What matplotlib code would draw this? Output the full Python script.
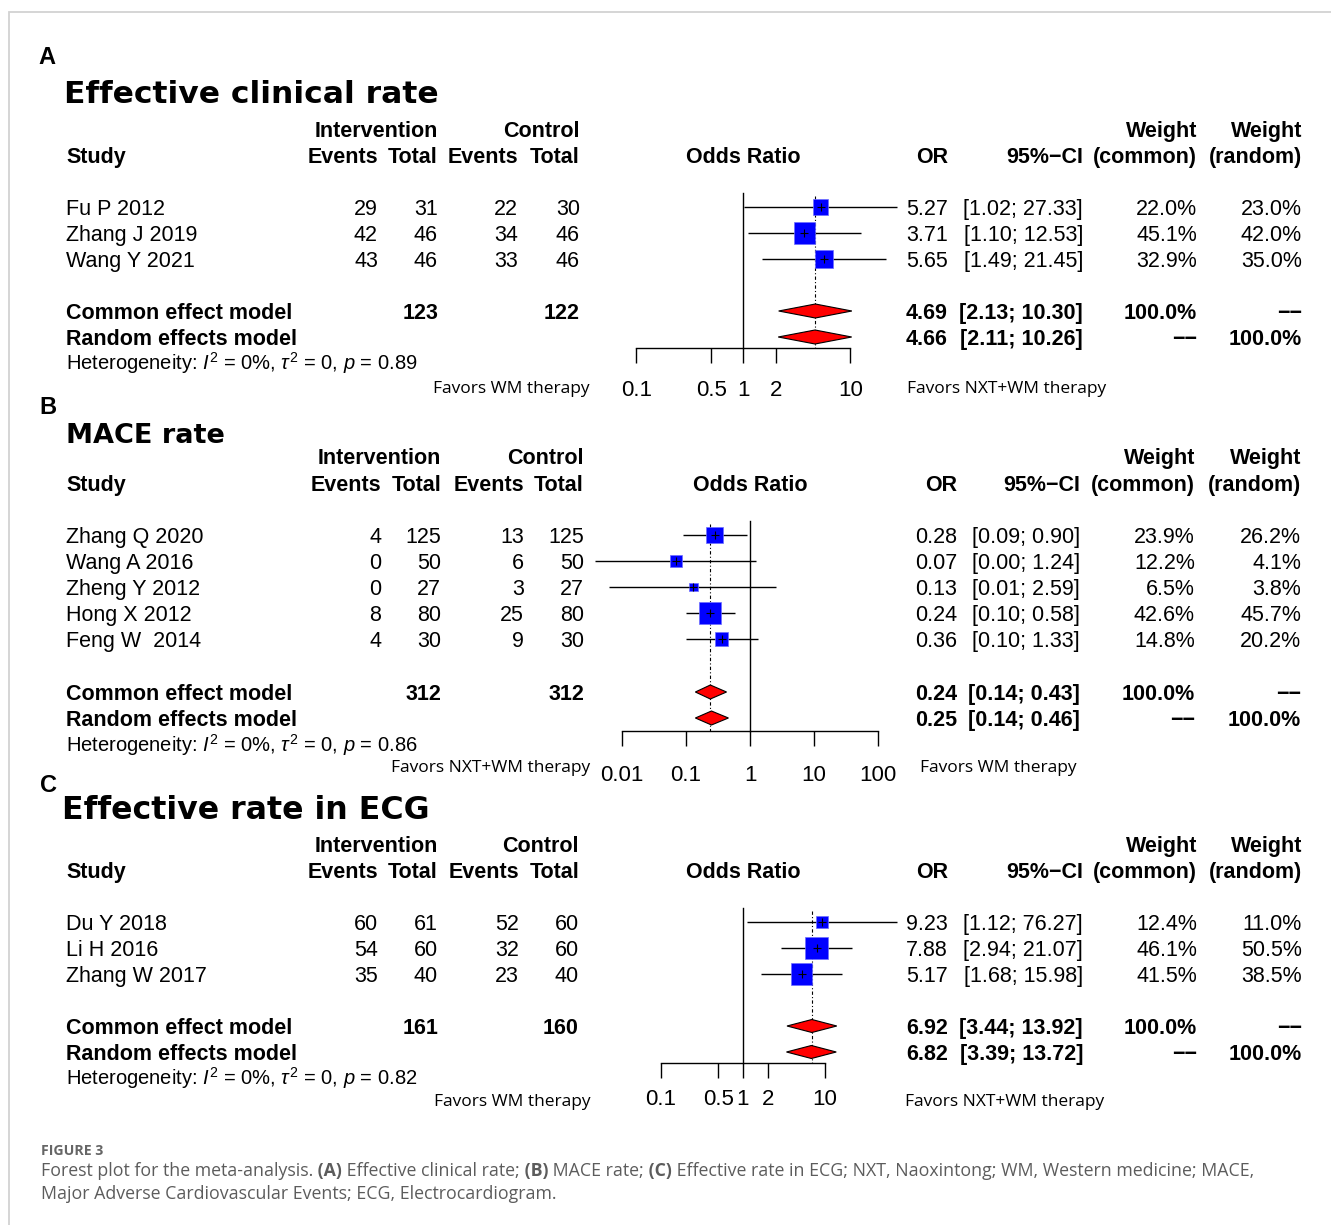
import matplotlib
matplotlib.use("Agg")
import matplotlib.pyplot as plt
import numpy as np
from matplotlib.ticker import FixedLocator, FixedFormatter, NullLocator

W, H, DPI = 1331, 1225, 100
PT = 72 / DPI  # points per pixel

plt.rcParams.update({
    "font.family": "Liberation Sans",
    "mathtext.fontset": "custom",
    "mathtext.rm": "Liberation Sans",
    "mathtext.it": "Liberation Sans:italic",
    "mathtext.bf": "Liberation Sans:bold",
})

# ---- (A) effective clinical rate ----
A_STUDY = ["Fu P 2012", "Zhang J 2019", "Wang Y 2021"]
A_EV_I = [29, 42, 43]
A_N_I = [31, 46, 46]
A_EV_C = [22, 34, 33]
A_N_C = [30, 46, 46]
A_OR = [5.27, 3.71, 5.65]
A_LO = [1.02, 1.10, 1.49]
A_HI = [27.33, 12.53, 21.45]
A_W_COMMON = [22.0, 45.1, 32.9]
A_W_RANDOM = [23.0, 42.0, 35.0]
A_COMMON = [4.69, 2.13, 10.30]
A_RANDOM = [4.66, 2.11, 10.26]
A_TOTALS = [123, 122]
A_HET = [0, 0, 0.89]  # I2 (%), tau2, p
A_TICKS = [0.1, 0.5, 1, 2, 10]
A_TICKLABELS = ["0.1", "0.5", "1", "2", "10"]

# ---- (B) MACE rate ----
B_STUDY = ["Zhang Q 2020", "Wang A 2016", "Zheng Y 2012", "Hong X 2012", "Feng W  2014"]
B_EV_I = [4, 0, 0, 8, 4]
B_N_I = [125, 50, 27, 80, 30]
B_EV_C = [13, 6, 3, 25, 9]
B_N_C = [125, 50, 27, 80, 30]
B_OR = [0.28, 0.07, 0.13, 0.24, 0.36]
B_LO = [0.09, 0.0038, 0.0063, 0.10, 0.10]
B_HI = [0.90, 1.24, 2.59, 0.58, 1.33]
B_W_COMMON = [23.9, 12.2, 6.5, 42.6, 14.8]
B_W_RANDOM = [26.2, 4.1, 3.8, 45.7, 20.2]
B_COMMON = [0.24, 0.14, 0.43]
B_RANDOM = [0.25, 0.14, 0.46]
B_TOTALS = [312, 312]
B_HET = [0, 0, 0.86]
B_TICKS = [0.01, 0.1, 1, 10, 100]
B_TICKLABELS = ["0.01", "0.1", "1", "10", "100"]

# ---- (C) effective rate in ECG ----
C_STUDY = ["Du Y 2018", "Li H 2016", "Zhang W 2017"]
C_EV_I = [60, 54, 35]
C_N_I = [61, 60, 40]
C_EV_C = [52, 32, 23]
C_N_C = [60, 60, 40]
C_OR = [9.23, 7.88, 5.17]
C_LO = [1.12, 2.94, 1.68]
C_HI = [76.27, 21.07, 15.98]
C_W_COMMON = [12.4, 46.1, 41.5]
C_W_RANDOM = [11.0, 50.5, 38.5]
C_COMMON = [6.92, 3.44, 13.92]
C_RANDOM = [6.82, 3.39, 13.72]
C_TOTALS = [161, 160]
C_HET = [0, 0, 0.82]
C_TICKS = [0.1, 0.5, 1, 2, 10]
C_TICKLABELS = ["0.1", "0.5", "1", "2", "10"]

FAV_TREAT = "Favors NXT+WM therapy"
FAV_CTRL = "Favors WM therapy"

CAPTION_HEAD = "FIGURE 3"
CAPTION_1 = [("Forest plot for the meta-analysis.", "normal"), (" (A)", "bold"),
             (" Effective clinical rate;", "normal"), (" (B)", "bold"),
             (" MACE rate;", "normal"), (" (C)", "bold"),
             (" Effective rate in ECG; NXT, Naoxintong; WM, Western medicine; MACE,", "normal")]
CAPTION_2 = "Major Adverse Cardiovascular Events; ECG, Electrocardiogram."

FS = 15.5      # table text (pt)
FS_TICK = 16
SANS_FAV = "Open Sans"
NA = "\u2212\u2212"


def put(ax, x, y, s, ha="left", weight="normal", size=FS, **kw):
    # y = vertical middle of the capital letters, in pixels
    return ax.text(x, y + 0.36 * size / PT, s, ha=ha, va="baseline",
                   fontsize=size, fontweight=weight, **kw)


def panel(fig, bg, name, title, data, lay):
    (study, ev_i, n_i, ev_c, n_c, orr, lo, hi, wc, wr,
     common, random, totals, het, ticks, ticklabels, fav_left, fav_right) = data
    c_study, c_evi, c_ni, c_evc, c_nc, c_or, c_ci, c_wc, c_wr = lay["cols"]

    put(bg, lay["label_x"], lay["label_y"], name, weight="bold", size=17)
    bg.text(lay["title_x"], lay["title_y"] + 0.36 * lay["title_size"] / PT, title,
            family="DejaVu Sans", fontweight="bold", fontsize=lay["title_size"],
            va="baseline")

    h1, h2 = lay["h1"], lay["h2"]
    put(bg, c_ni, h1, "Intervention", ha="right", weight="bold")
    put(bg, c_nc, h1, "Control", ha="right", weight="bold")
    put(bg, c_wc, h1, "Weight", ha="right", weight="bold")
    put(bg, c_wr, h1, "Weight", ha="right", weight="bold")
    put(bg, c_study, h2, "Study", weight="bold")
    for x, s in [(c_evi, "Events"), (c_ni, "Total"), (c_evc, "Events"), (c_nc, "Total"),
                 (c_or, "OR"), (c_ci, "95%\u2212CI"), (c_wc, "(common)"), (c_wr, "(random)")]:
        put(bg, x, h2, s, ha="right", weight="bold")
    put(bg, lay["x1"], h2, "Odds Ratio", ha="center", weight="bold")

    ys = [lay["row0"] + i * lay["step"] for i in range(len(study))]
    for i, y in enumerate(ys):
        put(bg, c_study, y, study[i])
        put(bg, c_evi, y, str(ev_i[i]), ha="right")
        put(bg, c_ni, y, str(n_i[i]), ha="right")
        put(bg, c_evc, y, str(ev_c[i]), ha="right")
        put(bg, c_nc, y, str(n_c[i]), ha="right")
        put(bg, c_or, y, f"{orr[i]:.2f}", ha="right")
        put(bg, c_ci, y, f"[{lo[i]:.2f}; {hi[i]:.2f}]", ha="right")
        put(bg, c_wc, y, f"{wc[i]:.1f}%", ha="right")
        put(bg, c_wr, y, f"{wr[i]:.1f}%", ha="right")

    yc, yr = lay["common"], lay["random"]
    put(bg, c_study, yc, "Common effect model", weight="bold")
    put(bg, c_study, yr, "Random effects model", weight="bold")
    put(bg, c_ni, yc, str(totals[0]), ha="right", weight="bold")
    put(bg, c_nc, yc, str(totals[1]), ha="right", weight="bold")
    for y, est in [(yc, common), (yr, random)]:
        put(bg, c_or, y, f"{est[0]:.2f}", ha="right", weight="bold")
        put(bg, c_ci, y, f"[{est[1]:.2f}; {est[2]:.2f}]", ha="right", weight="bold")
    put(bg, c_wc, yc, f"{sum(wc):.1f}%", ha="right", weight="bold")
    put(bg, c_wr, yc, NA, ha="right", weight="bold")
    put(bg, c_wc, yr, NA, ha="right", weight="bold")
    put(bg, c_wr, yr, f"{sum(wr):.1f}%", ha="right", weight="bold")
    put(bg, c_study, lay["het"],
        f"Heterogeneity: $I^2$ = {het[0]}%, $\\tau^2$ = {het[1]}, $p$ = {het[2]:.2f}",
        size=14.5)

    # forest: log odds-ratio axis laid over the table
    fx0, fx1 = 560, 945
    ax = fig.add_axes([fx0 / W, 0, (fx1 - fx0) / W, 1])
    ax.set_xscale("log")
    ax.set_xlim(10 ** ((fx0 - lay["x1"]) / lay["dec"]), 10 ** ((fx1 - lay["x1"]) / lay["dec"]))
    ax.set_ylim(H, 0)
    ax.patch.set_visible(False)
    for s in ("top", "left", "right"):
        ax.spines[s].set_visible(False)
    ax.spines["bottom"].set_position(("data", lay["base"]))
    ax.spines["bottom"].set_bounds(ticks[0], ticks[-1])
    ax.spines["bottom"].set_linewidth(1.0)
    ax.xaxis.set_major_locator(FixedLocator(ticks))
    ax.xaxis.set_major_formatter(FixedFormatter(ticklabels))
    ax.xaxis.set_minor_locator(NullLocator())
    ax.tick_params(axis="x", direction="out", length=15 * PT, width=1.0,
                   pad=lay["pad"] * PT, labelsize=FS_TICK)
    ax.set_yticks([])

    ax.plot([1, 1], [lay["null_top"], lay["base"]], color="black", lw=1.0, zorder=1)
    ax.plot([common[0], common[0]], [lay["null_top"] + 3, lay["base"]], color="black",
            lw=0.8, ls=(0, (3, 2, 1, 2)), zorder=1)
    ax.hlines(ys, lo, hi, color="black", lw=1.0, zorder=2, clip_on=False)
    sides = [lay["k"] * np.sqrt(w) * PT for w in wc]
    ax.scatter(orr, ys, marker="s", s=[s ** 2 for s in sides], color="#0000ff",
               edgecolor="#6f6fff", linewidth=0.5, zorder=3, clip_on=False)
    ax.scatter(orr, ys, marker="+", s=(8 * PT) ** 2, color="black", linewidth=0.8, zorder=4)
    dh = lay["dia_h"]
    for y, est in [(yc, common), (yr, random)]:
        ax.fill([est[1], est[0], est[2], est[0]], [y, y - dh, y, y + dh],
                facecolor="#ff0000", edgecolor="black", lw=0.8, zorder=3)

    bg.text(lay["fav_l"], lay["fav_y"], fav_left, ha="right", va="center",
            family=SANS_FAV, fontsize=12.5, color="black")
    bg.text(lay["fav_r"], lay["fav_y"], fav_right, ha="left", va="center",
            family=SANS_FAV, fontsize=12.5, color="black")


LAY_A = dict(label_x=38, label_y=55, title_x=64, title_y=92, title_size=22.6,
             h1=129, h2=155, row0=207, step=26, common=311, random=337, het=363,
             base=348, null_top=193, x1=743.5, dec=107, pad=17,
             cols=(66, 378, 438, 518, 580, 948, 1083, 1197, 1302),
             fav_y=389, fav_l=590, fav_r=907, dia_h=7, k=3.22)
LAY_B = dict(label_x=39, label_y=405, title_x=66, title_y=433, title_size=19.5,
             h1=456, h2=483, row0=535, step=26, common=692, random=718, het=745,
             base=731, null_top=521, x1=750, dec=64, pad=19,
             cols=(66, 381, 441, 524, 584, 957, 1080, 1195, 1301),
             fav_y=768, fav_l=590, fav_r=920, dia_h=7, k=3.4)
LAY_C = dict(label_x=40, label_y=783, title_x=62, title_y=808, title_size=22.8,
             h1=844, h2=870, row0=922, step=26, common=1026, random=1052, het=1078,
             base=1063, null_top=908, x1=743, dec=82, pad=11,
             cols=(66, 378, 438, 519, 579, 948, 1083, 1197, 1302),
             fav_y=1102, fav_l=591, fav_r=905, dia_h=6.5, k=3.3)

fig = plt.figure(figsize=(W / DPI, H / DPI), dpi=DPI)
bg = fig.add_axes([0, 0, 1, 1])
bg.set_xlim(0, W)
bg.set_ylim(H, 0)
bg.axis("off")

# page frame
bg.plot([9, 9, W], [H, 12, 12], color="#d2d2d2", lw=1.3, solid_joinstyle="miter")

panel(fig, bg, "A", "Effective clinical rate",
      (A_STUDY, A_EV_I, A_N_I, A_EV_C, A_N_C, A_OR, A_LO, A_HI, A_W_COMMON, A_W_RANDOM,
       A_COMMON, A_RANDOM, A_TOTALS, A_HET, A_TICKS, A_TICKLABELS, FAV_CTRL, FAV_TREAT),
      LAY_A)
panel(fig, bg, "B", "MACE rate",
      (B_STUDY, B_EV_I, B_N_I, B_EV_C, B_N_C, B_OR, B_LO, B_HI, B_W_COMMON, B_W_RANDOM,
       B_COMMON, B_RANDOM, B_TOTALS, B_HET, B_TICKS, B_TICKLABELS, FAV_TREAT, FAV_CTRL),
      LAY_B)
panel(fig, bg, "C", "Effective rate in ECG",
      (C_STUDY, C_EV_I, C_N_I, C_EV_C, C_N_C, C_OR, C_LO, C_HI, C_W_COMMON, C_W_RANDOM,
       C_COMMON, C_RANDOM, C_TOTALS, C_HET, C_TICKS, C_TICKLABELS, FAV_CTRL, FAV_TREAT),
      LAY_C)

# caption
cap = dict(family=SANS_FAV, color="#5c5c5c", fontsize=12.75)
bg.text(41, 1155, CAPTION_HEAD, family=SANS_FAV, color="#666666", fontsize=10.2,
        fontweight="bold", va="baseline")
t = bg.text(41, 1176, CAPTION_1[0][0], va="baseline", fontweight=CAPTION_1[0][1], **cap)
for s, w in CAPTION_1[1:]:
    t = bg.annotate(s, xy=(1, 0), xycoords=t, ha="left", va="bottom", fontweight=w, **cap)
bg.text(41, 1199, CAPTION_2, va="baseline", **cap)

fig.savefig("out.png", dpi=DPI)
